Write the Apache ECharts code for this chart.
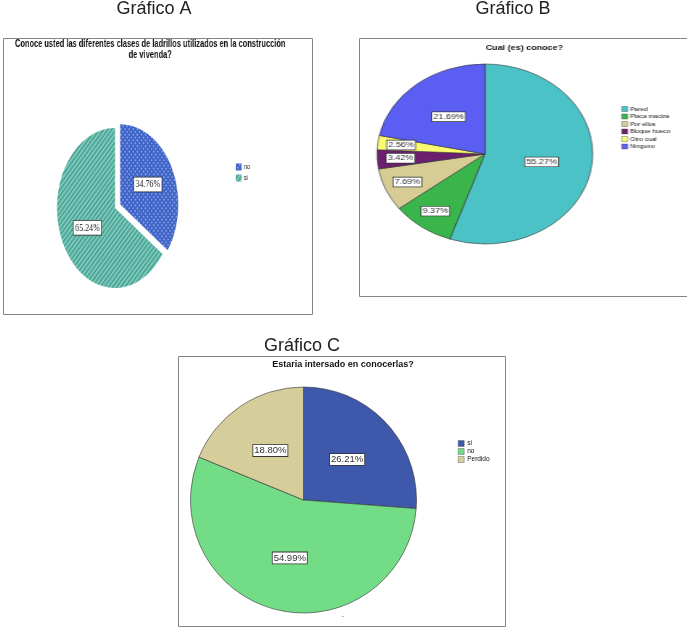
<!DOCTYPE html>
<html><head><meta charset="utf-8">
<script src="https://cdn.jsdelivr.net/npm/echarts@6/dist/echarts.min.js"></script>
<style>
html,body{margin:0;padding:0;background:#fff;overflow:hidden;}
#root{position:absolute;left:0;top:0;width:687px;height:640px;}
.pane{position:absolute;transform-origin:0 0;}
</style></head><body>
<div id="root"></div>
<div id="a" class="pane"></div>
<div id="b" class="pane"></div>
<div id="c" class="pane"></div>
<script>
const headings = ['Gráfico A', 'Gráfico B', 'Gráfico C'];

const titleA = 'Conoce usted las diferentes clases de ladrillos utilizados en la construcción\nde vivenda?';
const catsA = ['no', 'si'];
const valsA = [34.76, 65.24];

const titleB = 'Cual (es) conoce?';
const catsB = ['Pared', 'Placa maciza', 'Por ellos', 'Bloque hueco', 'Otro cual', 'Ninguno'];
const valsB = [55.27, 9.37, 7.69, 3.42, 2.56, 21.69];

const titleC = 'Estaria intersado en conocerlas?';
const catsC = ['si', 'no', 'Perdido'];
const valsC = [26.21, 54.99, 18.80];

const SANS = '"Liberation Sans", Arial, sans-serif';
const fmt = p => p.value.toFixed(2) + '%';

function pane(id, left, top, w, h, sx) {
  const el = document.getElementById(id);
  const lw = w / sx;
  el.style.left = left + 'px';
  el.style.top = top + 'px';
  el.style.width = lw + 'px';
  el.style.height = h + 'px';
  el.style.transform = 'scaleX(' + sx + ')';
  return echarts.init(el, null, {width: lw, height: h, renderer: 'canvas'});
}

// Root: headings and frames
const root = echarts.init(document.getElementById('root'), null, {width: 687, height: 640});
const headPos = [[154, 9], [513, 9], [302, 346]];
root.setOption({
  animation: false,
  graphic: [
    ...headings.map((t, i) => ({type: 'text', x: headPos[i][0], y: headPos[i][1],
      style: {text: t, font: '18px ' + SANS, fill: '#222', textAlign: 'center', textVerticalAlign: 'middle'}})),
    {type: 'rect', shape: {x: 3.5, y: 38.5, width: 309, height: 276}, style: {fill: 'none', stroke: '#858585', lineWidth: 1}},
    {type: 'rect', shape: {x: 359.5, y: 38.5, width: 340, height: 258}, style: {fill: 'none', stroke: '#858585', lineWidth: 1}},
    {type: 'rect', shape: {x: 178.5, y: 356.5, width: 327, height: 270}, style: {fill: 'none', stroke: '#858585', lineWidth: 1}}
  ]
});

// Chart A
const chA = pane('a', 3, 38, 309, 276, 0.725);
const colorsA = ['#3d62c6', '#48a596'];
const decalsA = [
  {symbol: 'rect', symbolSize: 1, dashArrayX: [2, 2], dashArrayY: [2, 2], rotation: Math.PI / 4, color: 'rgba(190,210,255,0.55)'},
  {symbol: 'rect', symbolSize: 1, dashArrayX: [1, 0], dashArrayY: [2, 2], rotation: -Math.PI / 4, color: 'rgba(190,240,228,0.5)'}
];
chA.setOption({
  animation: false,
  graphic: [{type: 'text', x: 203, y: 1,
    style: {text: titleA, font: 'bold 10.3px ' + SANS, lineHeight: 11, fill: '#111', textAlign: 'center'}}],
  legend: {orient: 'vertical', left: 321, top: 125, padding: 0, itemWidth: 8, itemHeight: 7, itemGap: 3,
    icon: 'rect', textStyle: {fontSize: 8, fontFamily: SANS, color: '#111', padding: [0, 0, 0, -2]}, data: catsA},
  series: [{
    type: 'pie', center: [154.5, 170], radius: 80, selectedMode: 'single', selectedOffset: 8,
    startAngle: 90, clockwise: true,
    itemStyle: {borderWidth: 0},
    label: {show: true, position: 'inside', formatter: fmt, fontSize: 11, fontFamily: '"Liberation Serif", serif',
      color: '#222', backgroundColor: '#fff', borderColor: '#222', borderWidth: 0.8, padding: [2, 2, 1, 2]},
    labelLine: {show: false},
    data: catsA.map((n, i) => ({name: n, value: valsA[i], selected: i === 0,
      itemStyle: {color: colorsA[i], decal: decalsA[i]}}))
  }]
});

// Chart B
const chB = pane('b', 359, 38, 328, 258, 1.194);
const colorsB = ['#4bc2c5', '#3ab54b', '#d6cc94', '#6d1f6f', '#fbfb72', '#5b5ef2'];
const bigB = [0, 5];
const labB = {position: 'inside', formatter: fmt, fontSize: 7.5, fontFamily: SANS, color: '#333',
  backgroundColor: '#fff', borderColor: '#333', borderWidth: 0.7, padding: [1, 1, 0, 1]};
chB.setOption({
  animation: false,
  graphic: [{type: 'text', x: 138, y: 6,
    style: {text: titleB, font: 'bold 7.5px ' + SANS, fill: '#111', textAlign: 'center'}}],
  legend: {orient: 'vertical', left: 219, top: 68, padding: 0, itemWidth: 5, itemHeight: 5, itemGap: 1.5, icon: 'rect',
    itemStyle: {borderColor: '#444', borderWidth: 0.4},
    textStyle: {fontSize: 5.5, lineHeight: 5, fontFamily: SANS, color: '#111', padding: [0, 0, 0, -3]}, data: catsB},
  series: [{
    type: 'pie', center: [105, 116], radius: 90, startAngle: 90, clockwise: true,
    itemStyle: {borderColor: '#333', borderWidth: 0.6},
    label: Object.assign({show: true}, labB), labelLine: {show: false},
    data: catsB.map((n, i) => ({name: n, value: valsB[i], itemStyle: {color: colorsB[i]},
      label: {show: bigB.includes(i)}}))
  }, {
    type: 'pie', center: [105, 116], radius: [45, 90], startAngle: 90, clockwise: true, silent: true,
    legendHoverLink: false,
    itemStyle: {color: 'rgba(0,0,0,0)', borderWidth: 0},
    label: Object.assign({show: true}, labB), labelLine: {show: false},
    data: catsB.map((n, i) => ({name: n + ' ', value: valsB[i], itemStyle: {color: 'rgba(0,0,0,0)'},
      label: {show: !bigB.includes(i)}}))
  }]
});

// Chart C
const chC = pane('c', 178, 356, 327, 270, 1);
const colorsC = ['#3e58ab', '#72dc86', '#d5ce9a'];
chC.setOption({
  animation: false,
  graphic: [
    {type: 'text', x: 165, y: 4, style: {text: titleC, font: 'bold 9px ' + SANS, fill: '#111', textAlign: 'center'}},
    {type: 'text', x: 165, y: 257, style: {text: '-', font: '7px ' + SANS, fill: '#666', textAlign: 'center'}}
  ],
  legend: {orient: 'vertical', left: 280, top: 84, padding: 0, itemWidth: 6, itemHeight: 6, itemGap: 1, icon: 'rect',
    itemStyle: {borderColor: '#444', borderWidth: 0.4},
    textStyle: {fontSize: 6.5, lineHeight: 6, fontFamily: SANS, color: '#111', padding: [0, 0, 0, -2]}, data: catsC},
  series: [{
    type: 'pie', center: [125.5, 144], radius: 113, startAngle: 90, clockwise: true,
    itemStyle: {borderColor: '#333', borderWidth: 0.6},
    label: {show: true, position: 'inside', formatter: fmt, fontSize: 9.5, fontFamily: SANS, color: '#333',
      backgroundColor: '#fff', borderColor: '#333', borderWidth: 0.8, padding: [1, 1, 0, 1]},
    labelLine: {show: false},
    data: catsC.map((n, i) => ({name: n, value: valsC[i], itemStyle: {color: colorsC[i]}}))
  }]
});
</script>
</body></html>
